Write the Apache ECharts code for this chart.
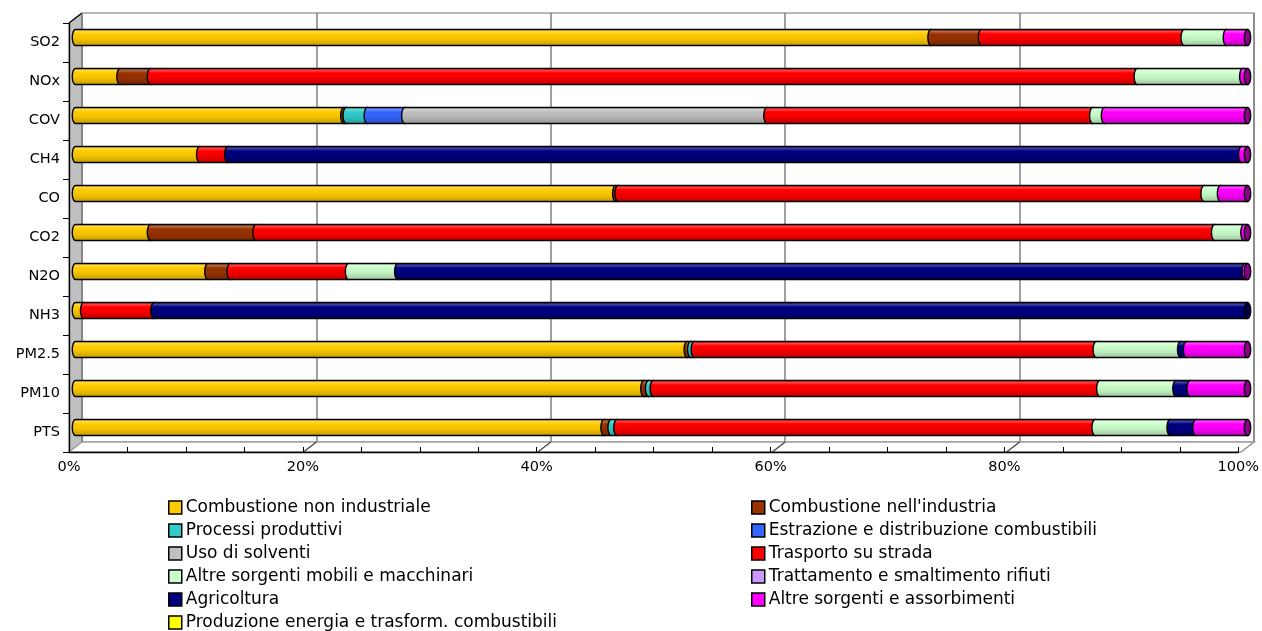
<!DOCTYPE html>
<html>
<head>
<meta charset="utf-8">
<script src="https://cdn.jsdelivr.net/npm/echarts@6/dist/echarts.min.js"></script>
<style>
  html, body { margin: 0; padding: 0; background: #ffffff; }
  #chart { width: 1262px; height: 631px; }
</style>
</head>
<body>
<div id="chart"></div>
<script>
// Pollutants, top to bottom
const categories = ['SO2', 'NOx', 'COV', 'CH4', 'CO', 'CO2', 'N2O', 'NH3', 'PM2.5', 'PM10', 'PTS'];

// Emission sectors (legend order = stacking order)
const sectorNames = [
  'Combustione non industriale',
  "Combustione nell'industria",
  'Processi produttivi',
  'Estrazione e distribuzione combustibili',
  'Uso di solventi',
  'Trasporto su strada',
  'Altre sorgenti mobili e macchinari',
  'Trattamento e smaltimento rifiuti',
  'Agricoltura',
  'Altre sorgenti e assorbimenti',
  'Produzione energia e trasform. combustibili'
];
const sectorColors = ['#FFCC00', '#993300', '#33CCCC', '#3366FF', '#C0C0C0', '#FF0000',
                      '#CCFFCC', '#CC99FF', '#000080', '#FF00FF', '#FFFF00'];

// Share of each pollutant's emissions by sector (%)
const combNonIndustriale = [73.0, 3.8, 22.9, 10.6, 46.1, 6.4, 11.3, 0.7, 52.2, 48.5, 45.1];
const combIndustria      = [4.3, 2.6, 0.2, 0, 0.2, 9.0, 1.9, 0, 0.3, 0.4, 0.6];
const processiProduttivi = [0, 0, 1.8, 0, 0, 0, 0, 0, 0.3, 0.4, 0.5];
const estrazioneDistrib  = [0, 0, 3.2, 0, 0, 0, 0, 0, 0, 0, 0];
const usoSolventi        = [0, 0, 30.9, 0, 0, 0, 0, 0, 0, 0, 0];
const trasportoStrada    = [17.3, 84.2, 27.8, 2.4, 50.0, 81.8, 10.1, 6.0, 34.3, 38.1, 40.8];
const altreMobili        = [3.6, 9.0, 1.0, 0, 1.4, 2.5, 4.2, 0, 7.2, 6.5, 6.4];
const trattamentoRifiuti = [0, 0, 0, 0, 0, 0, 0, 0, 0, 0, 0];
const agricoltura        = [0, 0, 0, 86.5, 0, 0, 72.3, 93.3, 0.5, 1.2, 2.2];
const altreAssorbimenti  = [1.8, 0.4, 12.2, 0.5, 2.3, 0.3, 0.2, 0, 5.2, 4.9, 4.4];
const produzioneEnergia  = [0, 0, 0, 0, 0, 0, 0, 0, 0, 0, 0];

const percentTicks = [0, 20, 40, 60, 80, 100];

const sectorValues = [combNonIndustriale, combIndustria, processiProduttivi, estrazioneDistrib,
  usoSolventi, trasportoStrada, altreMobili, trattamentoRifiuti, agricoltura,
  altreAssorbimenti, produzioneEnergia];

// Plot box geometry (front face) and the depth offset of the 3D box
const PL = 69, PT = 23, PW = 1172, PH = 429, DX = 13, DY = 10;

function mix(hex, target, t) {
  const a = parseInt(hex.slice(1), 16), b = parseInt(target.slice(1), 16);
  const ch = (v, s) => (v >> s) & 255;
  const m = s => Math.round(ch(a, s) + (ch(b, s) - ch(a, s)) * t);
  return 'rgb(' + m(16) + ',' + m(8) + ',' + m(0) + ')';
}

// Running start/end of every segment along each bar
const lastIdx = categories.map((_, j) => {
  let k = -1;
  sectorValues.forEach((vals, i) => { if (vals[j] > 0) k = i; });
  return k;
});
const running = categories.map(() => 0);
const segmentData = sectorValues.map((vals, i) => vals.map((v, j) => {
  const start = running[j];
  running[j] += v;
  return [j, start, running[j], lastIdx[j] === i ? 1 : 0];
}));

// One cylinder piece: body with a rounded left rim, plus the end face on the last piece
function cylinder(params, api) {
  const j = api.value(0), a = api.value(1), b = api.value(2), isLast = api.value(3);
  if (!(b > a)) return null;
  const color = sectorColors[params.seriesIndex];
  const p0 = api.coord([a, j]);
  const p1 = api.coord([b, j]);
  const ry = api.size([0, 1])[1] * 0.205;
  const rx = 3.2;
  const cy = p0[1];
  const pts = [];
  for (let k = 0; k <= 16; k++) {
    const t = -Math.PI / 2 - Math.PI * k / 16;
    pts.push([p0[0] + rx * Math.cos(t), cy + ry * Math.sin(t)]);
  }
  pts.push([p1[0], cy + ry], [p1[0], cy - ry]);
  const fill = new echarts.graphic.LinearGradient(0, 0, 0, 1, [
    { offset: 0, color: mix(color, '#000000', 0.2) },
    { offset: 0.14, color: mix(color, '#FFFFFF', 0.28) },
    { offset: 0.3, color: color },
    { offset: 0.6, color: mix(color, '#000000', 0.06) },
    { offset: 1, color: mix(color, '#000000', 0.24) }
  ]);
  const children = [{
    type: 'polygon',
    shape: { points: pts },
    style: { fill: fill, stroke: '#000000', lineWidth: 1.4 }
  }];
  if (isLast) {
    children.push({
      type: 'ellipse',
      shape: { cx: p1[0], cy: cy, rx: rx, ry: ry },
      style: { fill: mix(color, '#000000', 0.45), stroke: '#000000', lineWidth: 1.4 }
    });
  }
  return { type: 'group', children: children };
}

const FONT = 'DejaVu Sans';

// Box decoration: left wall, floor and the slanted links from front ticks to back grid lines
const boxGraphics = [
  {
    type: 'polygon',
    shape: { points: [[PL, PT], [PL + DX, PT - DY], [PL + DX, PT - DY + PH], [PL, PT + PH]] },
    style: { fill: '#C0C0C0', stroke: '#707070', lineWidth: 1 }
  },
  {
    type: 'polygon',
    shape: { points: [[PL, PT + PH], [PL + DX, PT + PH - DY], [PL + DX + PW, PT + PH - DY], [PL + PW, PT + PH]] },
    style: { fill: '#FFFFFF', stroke: '#A0A0A0', lineWidth: 1.5 }
  },
  {
    type: 'line',
    shape: { x1: PL, y1: PT, x2: PL + DX, y2: PT - DY },
    style: { stroke: '#000000', lineWidth: 1.3 }
  }
].concat(percentTicks.slice(1).map(p => {
  const x = PL + PW * p / 100;
  return {
    type: 'line',
    shape: { x1: x, y1: PT + PH, x2: x + DX, y2: PT + PH - DY },
    style: { stroke: p === 100 ? '#A0A0A0' : '#404040', lineWidth: 1.2 }
  };
}));

const leftLegend = sectorNames.filter((_, i) => i % 2 === 0);
const rightLegend = sectorNames.filter((_, i) => i % 2 === 1);
const legendCommon = {
  orient: 'vertical',
  top: 499,
  height: 160,
  padding: 0,
  itemWidth: 13,
  itemHeight: 13,
  itemGap: 6,
  icon: 'rect',
  selectedMode: false,
  itemStyle: { borderColor: '#000000', borderWidth: 1.5 },
  textStyle: { fontFamily: FONT, fontSize: 17, color: '#000000', lineHeight: 17, padding: [0, 0, 0, -1] }
};

const option = {
  animation: false,
  backgroundColor: '#FFFFFF',
  graphic: { z: 1, elements: boxGraphics },
  legend: [
    Object.assign({ left: 168, data: leftLegend }, legendCommon),
    Object.assign({ left: 751, data: rightLegend }, legendCommon)
  ],
  grid: [
    // back wall
    { left: PL + DX, top: PT - DY, width: PW, height: PH, show: true,
      borderColor: '#A0A0A0', borderWidth: 1.5, backgroundColor: 'transparent', z: 0 },
    // front face (axes)
    { left: PL, top: PT, width: PW, height: PH, z: 5 },
    // bars, half way in depth
    { left: PL + DX / 2, top: PT - DY / 2, width: PW, height: PH, z: 3 }
  ],
  xAxis: [
    { gridIndex: 0, type: 'value', min: 0, max: 100, interval: 20,
      axisLine: { show: false }, axisTick: { show: false }, axisLabel: { show: false },
      splitLine: { show: true, lineStyle: { color: '#808080', width: 1.5 } } },
    { gridIndex: 1, type: 'value', min: 0, max: 100, interval: 5, z: 5,
      axisLine: { show: true, lineStyle: { color: '#000000', width: 1.3 } },
      axisTick: { show: true, inside: true, length: 5, lineStyle: { color: '#000000', width: 1 } },
      axisLabel: { margin: 8, fontFamily: FONT, fontSize: 14.5, color: '#000000',
        formatter: v => percentTicks.indexOf(v) >= 0 ? v + '%' : '' },
      splitLine: { show: false } },
    { gridIndex: 2, type: 'value', min: 0, max: 100, show: false }
  ],
  yAxis: [
    { gridIndex: 0, type: 'category', data: categories, inverse: true, show: false },
    { gridIndex: 1, type: 'category', data: categories, inverse: true, z: 5,
      axisLine: { show: true, lineStyle: { color: '#000000', width: 1.3 } },
      axisTick: { show: true, length: 6, lineStyle: { color: '#000000', width: 1 } },
      axisLabel: { margin: 9, fontFamily: FONT, fontSize: 14.5, color: '#000000' },
      splitLine: { show: false } },
    { gridIndex: 2, type: 'category', data: categories, inverse: true, show: false }
  ],
  series: sectorNames.map((name, i) => ({
    name: name,
    type: 'custom',
    xAxisIndex: 2,
    yAxisIndex: 2,
    z: 3,
    itemStyle: { color: sectorColors[i], borderColor: '#000000', borderWidth: 1.5 },
    encode: { x: [1, 2], y: 0 },
    renderItem: cylinder,
    data: segmentData[i]
  }))
};

const chart = echarts.init(document.getElementById('chart'), null, { renderer: 'canvas' });
chart.setOption(option);
</script>
</body>
</html>
